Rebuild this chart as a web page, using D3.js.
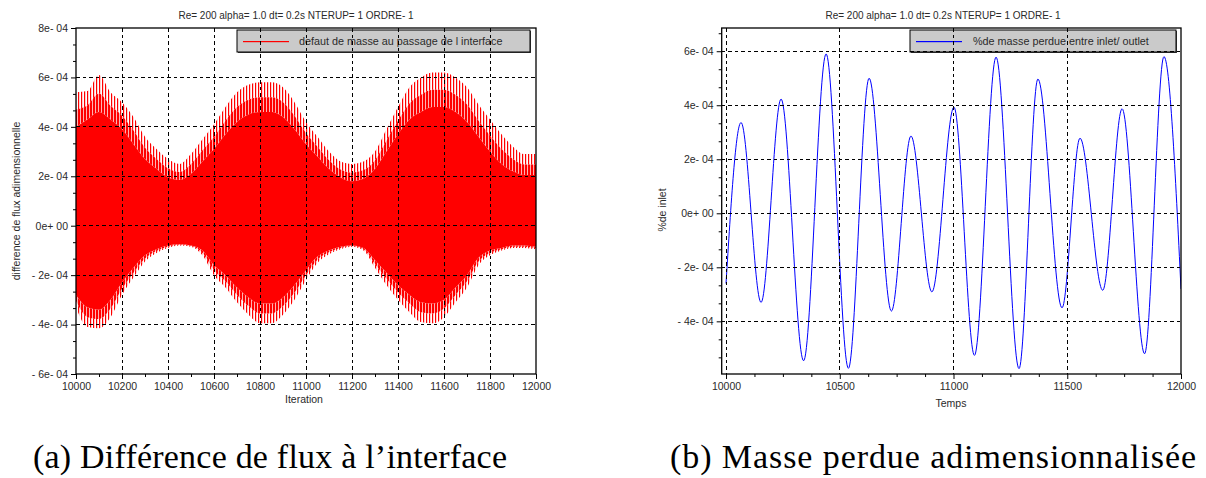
<!DOCTYPE html>
<html><head><meta charset="utf-8">
<script src="https://cdn.jsdelivr.net/npm/d3@7"></script>
<style>
body{margin:0;background:#fff}
svg{display:block}
</style>
</head><body>
<svg id="chart" width="1206" height="478"></svg>
<script>
// ---------- data ----------
const chartTitle = "Re= 200 alpha= 1.0 dt= 0.2s NTERUP= 1 ORDRE- 1";

// Left panel: envelope of the fast oscillation (units of 1e-4)
const leftIter = [10000,10050,10100,10150,10200,10250,10300,10350,10400,10450,10500,10550,10600,10650,10700,10750,10800,10850,10900,10950,11000,11050,11100,11150,11200,11250,11300,11350,11400,11450,11500,11550,11600,11650,11700,11750,11800,11850,11900,11950,12000];
const leftUpperPeak = [5.4,5.45,6.1,5.4,5.0,4.4,3.6,3.1,2.7,2.5,2.9,3.5,4.1,4.8,5.4,5.7,5.8,5.8,5.6,5.0,4.2,3.6,3.0,2.6,2.5,2.6,3.0,3.9,4.8,5.6,6.0,6.2,6.2,6.0,5.6,4.9,4.3,3.7,3.2,2.9,2.9];
const leftUpperBody = [4.0,4.3,4.6,4.3,3.9,3.3,2.7,2.3,1.95,1.85,2.1,2.6,3.1,3.7,4.2,4.5,4.6,4.6,4.4,3.9,3.3,2.8,2.3,1.95,1.8,1.9,2.3,3.0,3.7,4.3,4.6,4.8,4.8,4.6,4.2,3.6,3.0,2.5,2.2,2.05,2.05];
const leftLowerBody = [-2.8,-3.3,-3.4,-3.0,-2.3,-1.7,-1.2,-0.95,-0.8,-0.75,-0.8,-1.0,-1.6,-2.0,-2.5,-2.9,-3.15,-3.15,-2.9,-2.4,-1.8,-1.25,-1.0,-0.85,-0.8,-0.9,-1.4,-1.9,-2.4,-2.8,-3.1,-3.15,-3.0,-2.5,-2.0,-1.3,-1.0,-0.9,-0.8,-0.8,-0.85];
const leftLowerPeak = [-3.3,-4.1,-4.15,-3.7,-2.8,-2.1,-1.45,-1.1,-0.9,-0.8,-0.85,-1.2,-2.0,-2.5,-3.1,-3.6,-3.95,-3.95,-3.6,-3.0,-2.2,-1.5,-1.15,-0.95,-0.85,-1.0,-1.7,-2.4,-3.0,-3.5,-3.9,-3.95,-3.7,-3.1,-2.5,-1.6,-1.2,-1.0,-0.9,-0.9,-0.95];
const leftLegend = "defaut de masse au passage de l interface";
const leftXLabel = "Iteration";
const leftYLabel = "difference de flux adimensionnelle";
const leftXTicks = [10000,10200,10400,10600,10800,11000,11200,11400,11600,11800,12000];
const leftXTickLabels = ["10000","10200","10400","10600","10800","11000","11200","11400","11600","11800","12000"];
const leftYTicks = [-6e-4,-4e-4,-2e-4,0,2e-4,4e-4,6e-4,8e-4];
const leftYTickLabels = ["- 6e- 04","- 4e- 04","- 2e- 04","0e+ 00","2e- 04","4e- 04","6e- 04","8e- 04"];

// Right panel: extrema of the oscillation (units of 1e-4)
const rightTime = [10000,10066,10154,10242,10341,10440,10538,10629,10727,10813,10905,11002,11092,11187,11288,11371,11477,11556,11656,11741,11840,11925,12000];
const rightValue = [-2.6,3.36,-3.30,4.23,-5.46,5.90,-5.74,5.00,-3.62,2.86,-2.91,3.93,-5.26,5.78,-5.75,4.97,-3.50,2.78,-2.85,3.87,-5.20,5.80,-2.8];
const rightLegend = "%de masse perdue entre inlet/ outlet";
const rightXLabel = "Temps";
const rightYLabel = "%de inlet";
const rightXTicks = [10000,10500,11000,11500,12000];
const rightXTickLabels = ["10000","10500","11000","11500","12000"];
const rightYTicks = [-4e-4,-2e-4,0,2e-4,4e-4,6e-4];
const rightYTickLabels = ["- 4e- 04","- 2e- 04","0e+ 00","2e- 04","4e- 04","6e- 04"];

const captionA = "(a) Différence de flux à l’interface";
const captionB = "(b) Masse perdue adimensionnalisée";

// ---------- drawing ----------
const SANS = "'Liberation Sans', Arial, sans-serif";
const SERIF = "'Liberation Serif', 'DejaVu Serif', serif";
const svg = d3.select("#chart");
svg.append("rect").attr("width",1206).attr("height",478).attr("fill","#fff");
const defs = svg.append("defs");
function stripes(id, w){
  const p = defs.append("pattern").attr("id",id).attr("patternUnits","userSpaceOnUse").attr("width",3).attr("height",20);
  p.append("rect").attr("x",0).attr("y",0).attr("width",w).attr("height",20).attr("fill","#ff0000");
}
stripes("spkDense",2.3);
stripes("spkSparse",1.2);

const txtCol = "#2a2a2a";

function panel(cfg){
  const g = svg.append("g");
  const x = d3.scaleLinear().domain(cfg.xDom).range([cfg.x0,cfg.x1]);
  const y = d3.scaleLinear().domain(cfg.yDom).range([cfg.y1,cfg.y0]);
  defs.append("clipPath").attr("id",cfg.id+"clip").append("rect")
    .attr("x",cfg.x0).attr("y",cfg.y0).attr("width",cfg.x1-cfg.x0).attr("height",cfg.y1-cfg.y0);
  const data = g.append("g").attr("clip-path",`url(#${cfg.id}clip)`);
  cfg.drawData(data,x,y);

  // legend
  const lg = g.append("g");
  lg.append("rect").attr("x",cfg.leg.x+1).attr("y",cfg.leg.y+1).attr("width",cfg.leg.w).attr("height",cfg.leg.h).attr("fill","#444");
  lg.append("rect").attr("x",cfg.leg.x).attr("y",cfg.leg.y).attr("width",cfg.leg.w).attr("height",cfg.leg.h)
    .attr("fill","#cacaca").attr("stroke","#000").attr("stroke-width",1);
  lg.append("rect").attr("x",cfg.leg.x+6).attr("width",46).attr("y",cfg.leg.y+11).attr("height",1.2)
    .attr("fill",cfg.color);
  lg.append("text").attr("x",cfg.leg.tx).attr("y",cfg.leg.y+15).style("font-family",SANS).style("font-size","10.8px")
    .attr("fill",txtCol).text(cfg.legText);

  // grid
  const grid = g.append("g").attr("stroke","#000").attr("stroke-width",1).attr("stroke-dasharray","3.5,3").attr("shape-rendering","crispEdges");
  cfg.xTicks.filter(v=>Math.abs(x(v)-cfg.x0)>2 && Math.abs(x(v)-cfg.x1)>2 || cfg.gridEdge && v===cfg.xTicks[0]).forEach(v=>{
    grid.append("line").attr("x1",x(v)).attr("x2",x(v)).attr("y1",cfg.y0).attr("y2",cfg.y1);
  });
  cfg.yTicks.filter(v=>Math.abs(y(v)-cfg.y0)>2 && Math.abs(y(v)-cfg.y1)>2).forEach(v=>{
    grid.append("line").attr("x1",cfg.x0).attr("x2",cfg.x1).attr("y1",y(v)).attr("y2",y(v));
  });

  // axes
  const ax = g.append("g").attr("transform",`translate(0,${cfg.y1})`)
    .call(d3.axisBottom(x).tickValues(cfg.xTicks).tickFormat((d,i)=>cfg.xTickLabels[i]).tickSize(5).tickPadding(4));
  const axm = g.append("g").attr("transform",`translate(0,${cfg.y1})`)
    .call(d3.axisBottom(x).tickValues(cfg.xMinor).tickFormat("").tickSize(3));
  const ay = g.append("g").attr("transform",`translate(${cfg.x0},0)`)
    .call(d3.axisLeft(y).tickValues(cfg.yTicks).tickFormat((d,i)=>cfg.yTickLabels[i]).tickSize(5).tickPadding(3));
  const aym = g.append("g").attr("transform",`translate(${cfg.x0},0)`)
    .call(d3.axisLeft(y).tickValues(cfg.yMinor).tickFormat("").tickSize(3));
  [ax,axm,ay,aym].forEach(a=>{
    a.select(".domain").remove();
    a.selectAll("line").attr("stroke","#000");
    a.selectAll("text").style("font-size","10.5px").attr("fill",txtCol).style("font-family",SANS);
  });

  // frame
  g.append("rect").attr("x",cfg.x0).attr("y",cfg.y0).attr("width",cfg.x1-cfg.x0).attr("height",cfg.y1-cfg.y0)
    .attr("fill","none").attr("stroke","#000").attr("stroke-width",1.3);

  // texts
  g.append("text").attr("x",cfg.titleX).attr("y",19).attr("text-anchor","middle").style("font-family",SANS).style("font-size","10px").attr("fill",txtCol).text(chartTitle);
  g.append("text").attr("x",cfg.xLabX).attr("y",cfg.xLabY).attr("text-anchor","middle").style("font-family",SANS).style("font-size","10.5px").attr("fill",txtCol).text(cfg.xLabel);
  g.append("text").attr("transform",`translate(${cfg.yLabX},${cfg.yLabY}) rotate(-90)`).attr("text-anchor","middle")
    .style("font-family",SANS).style("font-size","10.5px").attr("fill",txtCol).text(cfg.yLabel);
}

// left panel
const leftRows = leftIter.map((t,i)=>({t,up:leftUpperPeak[i]*1e-4,ub:leftUpperBody[i]*1e-4,lb:leftLowerBody[i]*1e-4,lp:leftLowerPeak[i]*1e-4}));
panel({
  id:"L", x0:76, x1:536, y0:28, y1:374, xDom:[10000,12000], yDom:[-6e-4,8e-4], color:"#ff0000",
  xTicks:leftXTicks, xTickLabels:leftXTickLabels, yTicks:leftYTicks, yTickLabels:leftYTickLabels,
  xMinor:d3.range(10100,12000,200), yMinor:d3.range(-6e-4,8e-4,2e-4).flatMap(v=>[v+2e-4/3,v+4e-4/3]),
  leg:{x:237,y:30,w:293,h:22,tx:299}, legText:leftLegend,
  titleX:296, xLabel:leftXLabel, xLabX:304, xLabY:403, yLabel:leftYLabel, yLabX:19.5, yLabY:201,
  drawData:(g,x,y)=>{
    const c = d3.curveMonotoneX;
    const mid = (a,b)=> (a+b)/2;
    g.append("path").datum(leftRows).attr("fill","#ff0000")
      .attr("d",d3.area().x(d=>x(d.t)).y0(d=>y(d.lb)).y1(d=>y(d.ub)).curve(c));
    g.append("path").datum(leftRows).attr("fill","url(#spkDense)")
      .attr("d",d3.area().x(d=>x(d.t)).y0(d=>y(d.ub)).y1(d=>y(mid(d.ub,d.up))).curve(c));
    g.append("path").datum(leftRows).attr("fill","url(#spkSparse)")
      .attr("d",d3.area().x(d=>x(d.t)).y0(d=>y(mid(d.ub,d.up))).y1(d=>y(d.up)).curve(c));
    g.append("path").datum(leftRows).attr("fill","url(#spkDense)")
      .attr("d",d3.area().x(d=>x(d.t)).y0(d=>y(mid(d.lb,d.lp))).y1(d=>y(d.lb)).curve(c));
    g.append("path").datum(leftRows).attr("fill","url(#spkSparse)")
      .attr("d",d3.area().x(d=>x(d.t)).y0(d=>y(d.lp)).y1(d=>y(mid(d.lb,d.lp))).curve(c));
  }
});

// right panel
const rightRows = rightTime.map((t,i)=>({t,v:rightValue[i]*1e-4}));
panel({
  id:"R", x0:721.7, x1:1181, y0:28, y1:374, xDom:[9981,12000], yDom:[-5.95e-4,6.86e-4], color:"#0000ff",
  gridEdge:true,
  xTicks:rightXTicks, xTickLabels:rightXTickLabels, yTicks:rightYTicks, yTickLabels:rightYTickLabels,
  xMinor:d3.range(10000,12000,125).filter(v=>v%500!==0), yMinor:d3.range(-6e-4,7e-4,2e-4).flatMap(v=>[v+2e-4/3,v+4e-4/3]).filter(v=>v>-5.95e-4&&v<6.86e-4),
  leg:{x:910,y:30,w:266,h:22,tx:973}, legText:rightLegend,
  titleX:943, xLabel:rightXLabel, xLabX:951, xLabY:406.5, yLabel:rightYLabel, yLabX:665.5, yLabY:210,
  drawData:(g,x,y)=>{
    g.append("path").datum(rightRows).attr("fill","none").attr("stroke","#0000ff").attr("stroke-width",1)
      .attr("d",d3.line().x(d=>x(d.t)).y(d=>y(d.v)).curve(d3.curveMonotoneX));
  }
});

// captions
svg.append("text").attr("x",33).attr("y",468).attr("textLength",474).attr("lengthAdjust","spacing")
  .style("font-family",SERIF).style("font-size","34px").attr("fill","#000").text(captionA);
svg.append("text").attr("x",670).attr("y",468).attr("textLength",526).attr("lengthAdjust","spacing")
  .style("font-family",SERIF).style("font-size","34px").attr("fill","#000").text(captionB);
</script>
</body></html>
